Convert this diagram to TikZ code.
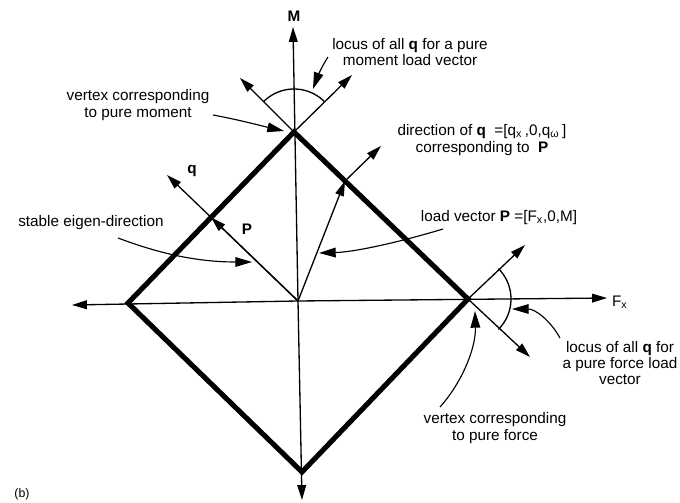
\documentclass[tikz,border=0pt]{standalone}
\usepackage{fontspec}
\setmainfont{Liberation Sans}
\usetikzlibrary{arrows.meta}

\begin{document}
\begin{tikzpicture}[
    x=0.02cm, y=-0.02cm,
    every node/.style={font=\fontsize{8.7}{9.2}\selectfont, align=center, inner sep=1pt},
    axis/.style={line width=0.75pt, -{Triangle[length=8.5pt, width=5pt]}},
    pointer/.style={line width=0.65pt, -{Triangle[length=9.5pt, width=5.5pt]}},
    limit/.style={line width=2.9pt, line join=miter},
    sweep/.style={line width=0.75pt},
]
\useasboundingbox (0,0) rectangle (680,503);

% ---------- Vertices of the interaction diamond ----------
\coordinate (O) at (298,301);
\coordinate (T) at (294,132);
\coordinate (R) at (468,299);
\coordinate (B) at (302,472);
\coordinate (L) at (128,303);

% ---------- Axes ----------
\coordinate (Mtip) at (293,27);
\coordinate (Btip) at (302,500);
\coordinate (Ltip) at (72,305);
\coordinate (Rtip) at (607,298);

\draw[axis] (O) -- (Mtip);
\draw[axis] (O) -- (Btip);
\draw[axis] (O) -- (Ltip);
\draw[axis] (O) -- (Rtip);

\node (Mlab) at (294,16) {\textbf{M}};
\node[anchor=west] (Flab) at (610,302) {F\textsubscript{x}};

% ---------- Diamond ----------
\draw[limit] (T) -- (R) -- (B) -- (L) -- cycle;

% ---------- Load vector and q directions ----------
\coordinate (qt) at (167,175);
\coordinate (Pe) at (intersection of O--qt and L--T);
\draw[axis] (O) -- (qt);
\draw[axis] (O) -- (Pe);

\coordinate (Pq) at (345,181);
\coordinate (qd) at (381,146);
\draw[axis] (O) -- (Pq);
\draw[axis] (Pq) -- (qd);

% ---------- Locus at the moment vertex ----------
\coordinate (Tl) at (240,78);
\coordinate (Tr) at (352,75);
\draw[axis] (T) -- (Tl);
\draw[axis] (T) -- (Tr);
\draw[sweep] plot[domain=45:135, samples=24] ({294+43*cos(\x)}, {132-43*sin(\x)});

% ---------- Locus at the force vertex ----------
\coordinate (Ru) at (525,245);
\coordinate (Rd) at (530,357);
\draw[axis] (R) -- (Ru);
\draw[axis] (R) -- (Rd);
\draw[sweep] plot[domain=-45:45, samples=24] ({468+43*cos(\x)}, {299-43*sin(\x)});

% ---------- Labels ----------
\node (vmom) at (138,105) {vertex corresponding\\to pure moment};
\node (qlab) at (192,171) {\textbf{q}};
\node (Plab) at (247,229) {\textbf{P}};
\node (stab) at (91,223) {stable eigen-direction};
\node (lmom) at (410,52) {locus of all \textbf{q} for a pure\\moment load vector};
\node (qdir) at (482,140) {direction of \textbf{q}\ \ =[q\textsubscript{x}\,,0,q\textsubscript{ω}\,]\\corresponding to\ \ \textbf{P}};
\node (lvec) at (499,218) {load vector \textbf{P} =[F\textsubscript{x},0,M]};
\node (lfor) at (620,363) {locus of all \textbf{q}\ for\\a pure force load\\vector};
\node (vfor) at (495,428) {vertex corresponding\\to pure force};
\node[font=\fontsize{7}{8}\selectfont] (blab) at (22,494) {(b)};

% ---------- Pointers ----------
\coordinate (vmA) at (213,115);  \coordinate (vmB) at (284,131);
\coordinate (stA) at (118,238);  \coordinate (stB) at (252,262);
\coordinate (lmA) at (328,57);   \coordinate (lmB) at (313,89);
\coordinate (lvA) at (443,229);  \coordinate (lvB) at (319,253);
\coordinate (lfA) at (560,338);  \coordinate (lfB) at (512,309);
\coordinate (vfA) at (440,407);  \coordinate (vfB) at (475,311);

\draw[pointer] (vmA) .. controls (240,120) and (262,126) .. (vmB);
\draw[pointer] (stA) .. controls (150,250) and (190,262) .. (stB);
\draw[pointer] (lmA) .. controls (322,66) and (317,78) .. (lmB);
\draw[pointer] (lvA) .. controls (400,242) and (355,252) .. (lvB);
\draw[pointer] (lfA) .. controls (550,320) and (535,309) .. (lfB);
\draw[pointer] (vfA) .. controls (460,385) and (476,350) .. (vfB);

\end{tikzpicture}
\end{document}
